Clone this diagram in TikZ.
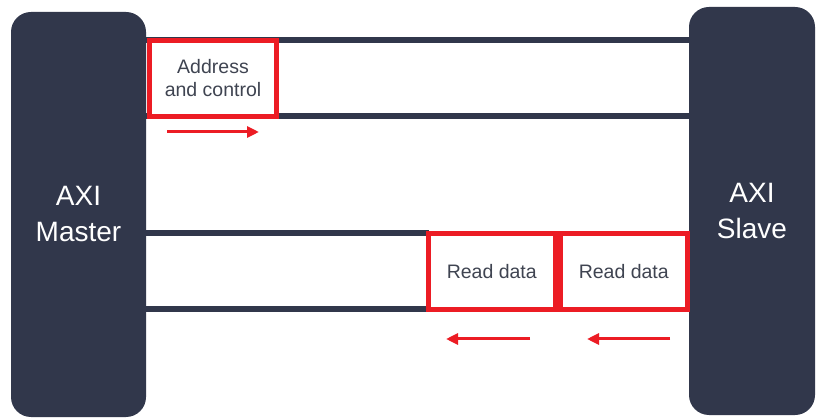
\documentclass[tikz,border=0pt]{standalone}
\usepackage{fontspec}
\setmainfont{Liberation Sans}
\usetikzlibrary{arrows.meta}
\definecolor{navy}{HTML}{31374B}
\definecolor{axred}{HTML}{EC1C24}
\definecolor{txtgray}{HTML}{3F4451}
\tikzset{
  block/.style={fill=navy, draw=none, rounded corners=20pt, text=white, align=center,
    font=\fontsize{28}{36}\selectfont, inner sep=0pt, outer sep=0pt},
  chan/.style={draw=navy, line width=6pt},
  sigbox/.style={draw=axred, line width=5pt, fill=white, text=txtgray, align=center,
    font=\fontsize{19.5}{23}\selectfont, inner sep=0pt, outer sep=0pt, minimum height=76pt},
  flow/.style={draw=axred, line width=3pt, -{Triangle[length=12pt,width=11pt]}}
}
\begin{document}
\begin{tikzpicture}[x=1pt,y=-1pt]
\useasboundingbox[fill=white] (0,0) rectangle (816,419);
% blocks
\node[block, minimum width=135pt, minimum height=405pt] (master) at (78.5,214.5) {AXI\\Master};
\node[block, minimum width=126pt, minimum height=408pt] (slave) at (752,211) {AXI\\Slave};
% boxes
\node[sigbox, minimum width=127pt] (addr) at (213,78.5) {Address\\and control};
\node[sigbox, minimum width=126.5pt] (rd1) at (491.75,271.5) {Read data};
\node[sigbox, minimum width=127.5pt] (rd2) at (623.75,271.5) {Read data};
% channel lines
\begin{scope}[on background layer/.style={}]
\end{scope}
\draw[chan] (master.east |- addr.north) -- (slave.west |- addr.north);
\draw[chan] (master.east |- addr.south) -- (slave.west |- addr.south);
\draw[chan] (master.east |- rd1.north) -- (rd1.north west);
\draw[chan] (master.east |- rd1.south) -- (rd1.south west);
% redraw boxes on top
\node[sigbox, minimum width=127pt] at (addr) {Address\\and control};
\node[sigbox, minimum width=126.5pt] at (rd1) {Read data};
\node[sigbox, minimum width=127.5pt] at (rd2) {Read data};
% flow arrows
\coordinate (a1s) at (167,132);
\coordinate (a1e) at (259,132);
\coordinate (a2s) at (530,339);
\coordinate (a2e) at (446,339);
\coordinate (a3s) at (670,339);
\coordinate (a3e) at (587,339);
\draw[flow] (a1s) -- (a1e);
\draw[flow] (a2s) -- (a2e);
\draw[flow] (a3s) -- (a3e);
\end{tikzpicture}
\end{document}
